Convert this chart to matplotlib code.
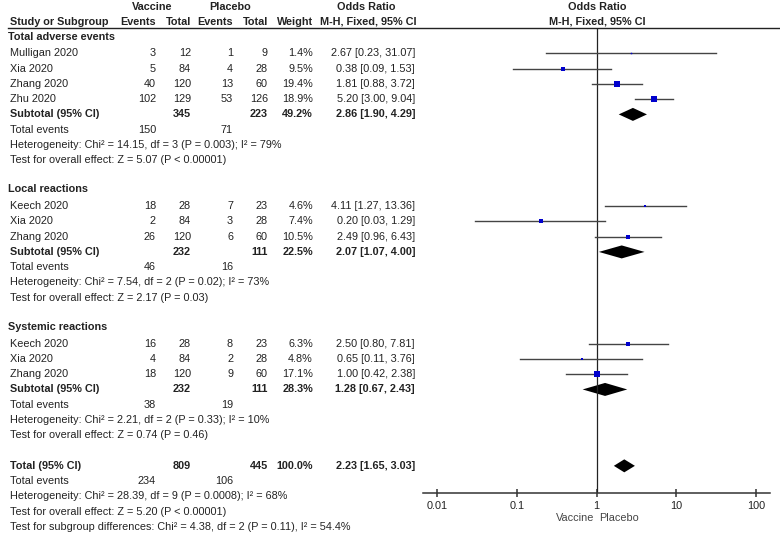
import numpy as np
import matplotlib
matplotlib.use("Agg")
import matplotlib.pyplot as plt
from matplotlib.ticker import FixedLocator, FixedFormatter, NullLocator

plt.rcParams['font.family'] = ['Liberation Sans', 'DejaVu Sans']

# data
groups = ["Total adverse events", "Local reactions", "Systemic reactions"]
study = ["Mulligan 2020", "Xia 2020", "Zhang 2020", "Zhu 2020",
         "Keech 2020", "Xia 2020", "Zhang 2020",
         "Keech 2020", "Xia 2020", "Zhang 2020"]
group_of = [0, 0, 0, 0, 1, 1, 1, 2, 2, 2]
vac_ev = [3, 5, 40, 102, 18, 2, 26, 16, 4, 18]
vac_n = [12, 84, 120, 129, 28, 84, 120, 28, 84, 120]
pla_ev = [1, 4, 13, 53, 7, 3, 6, 8, 2, 9]
pla_n = [9, 28, 60, 126, 23, 28, 60, 23, 28, 60]
weight = [1.4, 9.5, 19.4, 18.9, 4.6, 7.4, 10.5, 6.3, 4.8, 17.1]
odds = [2.67, 0.38, 1.81, 5.20, 4.11, 0.20, 2.49, 2.50, 0.65, 1.00]
ci_lo = [0.23, 0.09, 0.88, 3.00, 1.27, 0.03, 0.96, 0.80, 0.11, 0.42]
ci_hi = [31.07, 1.53, 3.72, 9.04, 13.36, 1.29, 6.43, 7.81, 3.76, 2.38]

sub_vac_n = [345, 232, 232]
sub_pla_n = [223, 111, 111]
sub_vac_ev = [150, 46, 38]
sub_pla_ev = [71, 16, 19]
sub_w = [49.2, 22.5, 28.3]
sub_or = [2.86, 2.07, 1.28]
sub_lo = [1.90, 1.07, 0.67]
sub_hi = [4.29, 4.00, 2.43]
sub_het = ["Heterogeneity: Chi\u00b2 = 14.15, df = 3 (P = 0.003); I\u00b2 = 79%",
           "Heterogeneity: Chi\u00b2 = 7.54, df = 2 (P = 0.02); I\u00b2 = 73%",
           "Heterogeneity: Chi\u00b2 = 2.21, df = 2 (P = 0.33); I\u00b2 = 10%"]
sub_test = ["Test for overall effect: Z = 5.07 (P < 0.00001)",
            "Test for overall effect: Z = 2.17 (P = 0.03)",
            "Test for overall effect: Z = 0.74 (P = 0.46)"]

tot_vac_n, tot_pla_n, tot_w = 809, 445, 100.0
tot_vac_ev, tot_pla_ev = 234, 106
tot_or, tot_lo, tot_hi = 2.23, 1.65, 3.03
tot_lines = ["Heterogeneity: Chi\u00b2 = 28.39, df = 9 (P = 0.0008); I\u00b2 = 68%",
             "Test for overall effect: Z = 5.20 (P < 0.00001)",
             "Test for subgroup differences: Chi\u00b2 = 4.38, df = 2 (P = 0.11), I\u00b2 = 54.4%"]

ticks = [0.01, 0.1, 1, 10, 100]

# layout (pixel space)
W, H = 780, 535
fs = 7.8
tc = '#222222'
x_name, x_head = 10, 8
x_vev, x_vn, x_pev, x_pn, x_w, x_or = 156, 191, 233, 268, 313, 415
row0, step = 38, 15.28

fig = plt.figure(figsize=(W / 100, H / 100), dpi=100)
ax0 = fig.add_axes([0, 0, 1, 1])
ax0.set_xlim(0, W)
ax0.set_ylim(H, 0)
ax0.axis('off')

# forest axes: x 423..770 px, y 28..493 px
px0, px1, py0, py1 = 423, 770, 28, 493
ax1 = fig.add_axes([px0 / W, 1 - py1 / H, (px1 - px0) / W, (py1 - py0) / H])
ax1.patch.set_alpha(0)
ax1.set_xscale('log')
ax1.set_xlim(10 ** (-2 - (437 - px0) / 80), 10 ** (2 + (px1 - 756) / 80))
ax1.set_ylim(py1, py0)
for s in ['top', 'left', 'right']:
    ax1.spines[s].set_visible(False)
ax1.spines['bottom'].set_linewidth(1.1)
ax1.spines['bottom'].set_color('#333333')
ax1.yaxis.set_major_locator(NullLocator())
ax1.xaxis.set_major_locator(FixedLocator(ticks))
ax1.xaxis.set_minor_locator(NullLocator())
ax1.xaxis.set_major_formatter(FixedFormatter(["0.01", "0.1", "1", "10", "100"]))
ax1.tick_params(axis='x', direction='inout', length=6, width=1.1, color='#333333',
                labelsize=fs, labelcolor=tc, pad=3)
ax1.axvline(1, color='#222222', lw=0.9)
ax1.text(0.93, 518, "Vaccine", ha='right', va='center', fontsize=fs, color='#444444',
         clip_on=False)
ax1.text(1.08, 518, "Placebo", ha='left', va='center', fontsize=fs, color='#444444',
         clip_on=False)


def txt(x, y, s, ha='right', bold=False):
    ax0.text(x, y, s, ha=ha, va='center', fontsize=fs, color=tc,
             fontweight='bold' if bold else 'normal')


def diamond(y, est, lo, hi):
    ax1.fill([lo, est, hi, est], [y, y - 6.5, y, y + 6.5], color='black', lw=0)


# header
txt(152, 7, "Vaccine", 'center', True)
txt(230, 7, "Placebo", 'center', True)
txt(366, 7, "Odds Ratio", 'center', True)
txt(597, 7, "Odds Ratio", 'center', True)
txt(x_name, 22, "Study or Subgroup", 'left', True)
txt(x_vev, 22, "Events", 'right', True)
txt(x_vn, 22, "Total", 'right', True)
txt(x_pev, 22, "Events", 'right', True)
txt(x_pn, 22, "Total", 'right', True)
txt(x_w, 22, "Weight", 'right', True)
txt(368, 22, "M-H, Fixed, 95% CI", 'center', True)
txt(597, 22, "M-H, Fixed, 95% CI", 'center', True)
ax0.plot([8, W], [27.5, 27.5], color='#222222', lw=1.0)

k = 0
for g, gname in enumerate(groups):
    txt(x_head, row0 + step * k - 1.5, gname, 'left', True)
    k += 1
    for i in range(len(study)):
        if group_of[i] != g:
            continue
        y = row0 + step * k
        txt(x_name, y, study[i], 'left')
        txt(x_vev, y, str(vac_ev[i]))
        txt(x_vn, y, str(vac_n[i]))
        txt(x_pev, y, str(pla_ev[i]))
        txt(x_pn, y, str(pla_n[i]))
        txt(x_w, y, "%.1f%%" % weight[i])
        txt(x_or, y, "%.2f [%.2f, %.2f]" % (odds[i], ci_lo[i], ci_hi[i]))
        ax1.plot([ci_lo[i], ci_hi[i]], [y, y], color='#444444', lw=1.0)
        side = 1.25 * np.sqrt(weight[i])
        ax1.plot([odds[i]], [y], 's', color='#0000cc', ms=side / 1.389, mew=0)
        k += 1
    y = row0 + step * k
    txt(x_name, y, "Subtotal (95% CI)", 'left', True)
    txt(x_vn, y, str(sub_vac_n[g]), bold=True)
    txt(x_pn, y, str(sub_pla_n[g]), bold=True)
    txt(x_w, y, "%.1f%%" % sub_w[g], bold=True)
    txt(x_or, y, "%.2f [%.2f, %.2f]" % (sub_or[g], sub_lo[g], sub_hi[g]), bold=True)
    diamond(y, sub_or[g], sub_lo[g], sub_hi[g])
    k += 1
    y = row0 + step * k
    txt(x_name, y, "Total events", 'left')
    txt(x_vev, y, str(sub_vac_ev[g]))
    txt(x_pev, y, str(sub_pla_ev[g]))
    k += 1
    txt(x_name, row0 + step * k, sub_het[g], 'left')
    k += 1
    txt(x_name, row0 + step * k, sub_test[g], 'left')
    k += 2

y = row0 + step * k
txt(x_name, y, "Total (95% CI)", 'left', True)
txt(x_vn, y, str(tot_vac_n), bold=True)
txt(x_pn, y, str(tot_pla_n), bold=True)
txt(x_w, y, "%.1f%%" % tot_w, bold=True)
txt(x_or, y, "%.2f [%.2f, %.2f]" % (tot_or, tot_lo, tot_hi), bold=True)
diamond(y, tot_or, tot_lo, tot_hi)
k += 1
y = row0 + step * k
txt(x_name, y, "Total events", 'left')
txt(x_vev, y, str(tot_vac_ev))
txt(x_pev, y, str(tot_pla_ev))
k += 1
for line in tot_lines:
    txt(x_name, row0 + step * k, line, 'left')
    k += 1

fig.savefig("out.png", dpi=100)
